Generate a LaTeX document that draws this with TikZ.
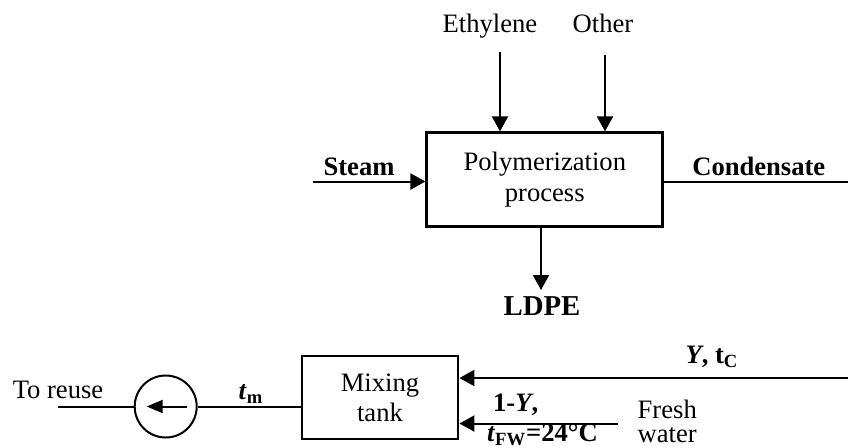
\documentclass[tikz,border=0pt]{standalone}
\usepackage{fontspec}
\setmainfont{Liberation Serif}
\usetikzlibrary{arrows.meta,calc}
\tikzset{
  flow/.style={line width=1pt,-{Triangle[length=7.5pt,width=8pt]}},
  plainline/.style={line width=1pt},
  procbox/.style={draw,line width=1.35pt,minimum width=118pt,minimum height=47pt,inner sep=0pt,align=center,font=\fontsize{13.3}{15.8}\selectfont},
  mixbox/.style={draw,line width=1.15pt,minimum width=78.3pt,minimum height=41.6pt,inner sep=0pt,align=center,font=\fontsize{13.3}{15}\selectfont},
  pumpc/.style={draw,circle,line width=1pt,minimum size=31pt,inner sep=0pt},
  lbl/.style={inner sep=0pt,anchor=base,font=\fontsize{13.3}{15.8}\selectfont},
  lbll/.style={lbl,anchor=base west},
}
\begin{document}
\begin{tikzpicture}[x=0.5pt,y=-0.5pt]
\useasboundingbox (0,0) rectangle (848,447);
% upper process
\node[procbox] (pbox) at (544.8,179.7) {Polymerization\\process};
\node[lbl] (eth) at (490,32.5) {Ethylene};
\node[lbl] (oth) at (603,32.5) {Other};
\node[lbl] (steam) at (359,175.5) {\textbf{Steam}};
\node[lbl] (cond) at (758.8,175) {\textbf{Condensate}};
\node[lbl,font=\fontsize{14.4}{16}\selectfont] (ldpe) at (542,315) {\textbf{LDPE}};
\coordinate (ethA) at (500,51.7);
\coordinate (othA) at (605,55);
\coordinate (steamA) at (313.3,181.5);
\coordinate (condB) at (848,181.5);
\coordinate (ldpeA) at (541,290);
\draw[flow] (ethA) -- (ethA |- pbox.north);
\draw[flow] (othA) -- (othA |- pbox.north);
\draw[flow] (steamA) -- (steamA -| pbox.west);
\draw[plainline] (condB -| pbox.east) -- (condB);
\draw[flow] (ldpeA |- pbox.south) -- (ldpeA);
% lower mixing
\node[mixbox] (mix) at (380,397.7) {Mixing\\tank};
\node[pumpc] (circ) at (165.7,406.5) {};
\coordinate (reuse) at (58.3,406.5);
\coordinate (yA) at (848,378);
\coordinate (fA) at (617.5,423.5);
\draw[flow] (yA) -- (yA -| mix.east);
\draw[flow] (fA) -- (fA -| mix.east);
\draw[plainline] (circ.east) -- (circ.east -| mix.west);
\draw[plainline] (circ.west) -- (reuse);
\draw[line width=1pt,-{Triangle[length=8pt,width=6.5pt]}] ($(circ.center)+(21.6,0)$) -- ($(circ.center)+(-19,0)$);
\node[lbl] (toreuse) at (58,398.3) {To reuse};
\node[lbl] (tm) at (251,399.3) {\textbf{\textit{t}}\textsubscript{\textbf{m}}};
\node[lbl] (ytc) at (712,363.3) {\textbf{\textit{Y}, t}\textsubscript{\textbf{C}}};
\node[lbll] (oney) at (492.7,411) {\textbf{1-\textit{Y},}};
\node[lbll] (tfw) at (486.7,441.5) {\textbf{\textit{t}}\textsubscript{\textbf{FW}}\textbf{=24°C}};
\node[lbll] (fresh) at (637.3,418) {Fresh};
\node[lbll] (water) at (637.3,442) {water};
\end{tikzpicture}
\end{document}
